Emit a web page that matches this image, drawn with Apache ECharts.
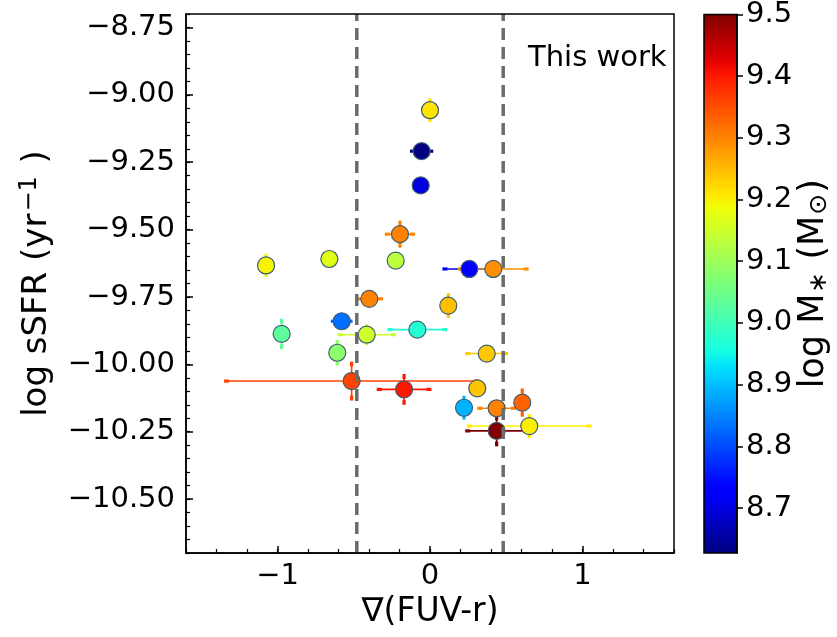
<!DOCTYPE html>
<html>
<head>
<meta charset="utf-8">
<script src="https://cdn.jsdelivr.net/npm/echarts@6/dist/echarts.min.js"></script>
<style>
  html, body { margin: 0; padding: 0; background: #ffffff; }
  #chart { width: 837px; height: 637px; }
</style>
</head>
<body>
<div id="chart"></div>
<script>
// Gradient of FUV-r colour vs. specific star formation rate, coloured by stellar mass
const gradFUVr    = [0.00, -0.055, -0.061, -0.197, -1.075, -0.66, -0.225, 0.258, 0.415, -0.398, 0.12, -0.579, -0.973, -0.083, -0.415, -0.608, 0.372, -0.514, -0.17, 0.31, 0.223, 0.437, 0.605, 0.651, 0.437];
const logSSFR     = [-9.057, -9.209, -9.336, -9.517, -9.633, -9.609, -9.615, -9.646, -9.646, -9.757, -9.782, -9.84, -9.887, -9.871, -9.89, -9.957, -9.96, -10.062, -10.093, -10.089, -10.161, -10.163, -10.142, -10.229, -10.247];
const logMstar    = [9.21, 8.627, 8.70, 9.30, 9.195, 9.17, 9.13, 8.72, 9.29, 9.30, 9.245, 8.83, 9.03, 8.97, 9.15, 9.08, 9.235, 9.36, 9.40, 9.24, 8.89, 9.30, 9.33, 9.20, 9.50];
const gradFUVrErr = [0, 0.06, 0, 0.083, 0, 0, 0, 0.16, 0.215, 0.074, 0, 0.055, 0, 0.18, 0.175, 0, 0.124, 0.82, 0.163, 0, 0, 0.11, 0, 0.393, 0.19];
const logSSFRErr  = [0.035, 0, 0, 0.041, 0.035, 0, 0, 0, 0, 0, 0.036, 0, 0.047, 0, 0.03, 0.038, 0, 0.063, 0.048, 0, 0.035, 0, 0.043, 0.035, 0.048];

// Vertical reference lines in gradient
const gradLimits = [-0.48, 0.48];

// Axis ticks
const xTicks  = [-1, 0, 1];
const yTicks  = [-10.5, -10.25, -10.0, -9.75, -9.5, -9.25, -9.0, -8.75];
const cbTicks = [8.7, 8.8, 8.9, 9.0, 9.1, 9.2, 9.3, 9.4, 9.5];
const massRange = [8.627, 9.5];

const FONT = 'DejaVu Sans';
const minus = s => s.replace('-', '\u2212');

// matplotlib "jet" colormap, piecewise linear
const jetSeg = {
  r: [[0, 0], [0.35, 0], [0.66, 1], [0.89, 1], [1, 0.5]],
  g: [[0, 0], [0.125, 0], [0.375, 1], [0.64, 1], [0.91, 0], [1, 0]],
  b: [[0, 0.5], [0.11, 1], [0.34, 1], [0.65, 0], [1, 0]]
};
function segVal(seg, t) {
  for (let i = 1; i < seg.length; i++) {
    if (t <= seg[i][0]) {
      const [t0, v0] = seg[i - 1], [t1, v1] = seg[i];
      return v0 + (v1 - v0) * (t - t0) / (t1 - t0);
    }
  }
  return seg[seg.length - 1][1];
}
function jet(t) {
  const c = k => Math.round(255 * segVal(jetSeg[k], t));
  return 'rgb(' + c('r') + ',' + c('g') + ',' + c('b') + ')';
}
const jetColors = [];
for (let i = 0; i <= 64; i++) jetColors.push(jet(i / 64));

const points = gradFUVr.map((x, i) => [x, logSSFR[i], logMstar[i], gradFUVrErr[i], logSSFRErr[i]]);

const chart = echarts.init(document.getElementById('chart'), null, { renderer: 'canvas' });

function errorBars(params, api) {
  const x = api.value(0), y = api.value(1);
  const xe = api.value(3), ye = api.value(4);
  const color = api.visual('color');
  const children = [];
  const lineStyle = { stroke: color, lineWidth: 1.6 };
  const capStyle = { fill: color };
  if (xe > 0) {
    const a = api.coord([x - xe, y]), b = api.coord([x + xe, y]);
    children.push({ type: 'line', shape: { x1: a[0], y1: a[1], x2: b[0], y2: b[1] }, style: lineStyle });
    [a, b].forEach(p => children.push({ type: 'rect', shape: { x: p[0] - 2.5, y: p[1] - 1.6, width: 5, height: 3.2 }, style: capStyle }));
  }
  if (ye > 0) {
    const a = api.coord([x, y - ye]), b = api.coord([x, y + ye]);
    children.push({ type: 'line', shape: { x1: a[0], y1: a[1], x2: b[0], y2: b[1] }, style: lineStyle });
    [a, b].forEach(p => children.push({ type: 'rect', shape: { x: p[0] - 1.6, y: p[1] - 2.5, width: 3.2, height: 5 }, style: capStyle }));
  }
  return { type: 'group', children: children };
}

const limitSeries = gradLimits.map(g => ({
  type: 'line',
  xAxisIndex: 0, yAxisIndex: 0,
  data: [[g, -10.7], [g, -8.7]],
  symbol: 'none',
  silent: true,
  z: 5,
  lineStyle: { color: '#6b6b6b', width: 3.5, type: [12, 7] }
}));

const option = {
  animation: false,
  backgroundColor: '#ffffff',
  textStyle: { fontFamily: FONT },
  grid: [
    { left: 186, top: 14, width: 488, height: 539, show: true, borderColor: '#000', borderWidth: 1.5, backgroundColor: 'transparent', z: 6 },
    { left: 704, top: 14, width: 33, height: 539, show: true, borderColor: '#000', borderWidth: 1.5, backgroundColor: 'transparent', z: 6 }
  ],
  xAxis: [
    {
      type: 'value', gridIndex: 0, position: 'bottom', min: -1.6, max: 1.6,
      name: '\u2207(FUV-r)', nameLocation: 'middle', nameGap: 35,
      nameTextStyle: { fontFamily: FONT, fontSize: 33, color: '#000' },
      axisLine: { show: true, onZero: false, lineStyle: { color: '#000', width: 1.5 } },
      axisTick: { show: true, inside: true, length: 7, customValues: xTicks, lineStyle: { color: '#000', width: 1.5 } },
      axisLabel: { show: true, margin: 9, customValues: xTicks, fontFamily: FONT, fontSize: 29, color: '#000', formatter: v => minus(String(v)) },
      splitLine: { show: false }
    },
    {
      type: 'value', gridIndex: 0, position: 'bottom', min: -1.6, max: 1.6, interval: 0.2,
      axisLine: { show: false, onZero: false },
      axisTick: { show: true, inside: true, length: 4, lineStyle: { color: '#000', width: 1.2 } },
      axisLabel: { show: false },
      splitLine: { show: false }
    },
    { type: 'value', gridIndex: 1, min: 0, max: 1, show: false }
  ],
  yAxis: [
    {
      type: 'value', gridIndex: 0, position: 'left', min: -10.7, max: -8.7,
      name: '{t|log sSFR (yr}{s|\u22121}{t| )}', nameLocation: 'middle', nameGap: 130, nameRotate: 90,
      nameTextStyle: {
        color: '#000',
        rich: {
          t: { fontFamily: FONT, fontSize: 34, color: '#000' },
          s: { fontFamily: FONT, fontSize: 24, color: '#000', verticalAlign: 'top', padding: [0, 2, 14, 2] }
        }
      },
      axisLine: { show: true, onZero: false, lineStyle: { color: '#000', width: 1.5 } },
      axisTick: { show: true, inside: true, length: 7, customValues: yTicks, lineStyle: { color: '#000', width: 1.5 } },
      axisLabel: { show: true, margin: 11, customValues: yTicks, fontFamily: FONT, fontSize: 29, color: '#000', formatter: v => minus(v.toFixed(2)) },
      splitLine: { show: false }
    },
    {
      type: 'value', gridIndex: 0, position: 'left', min: -10.7, max: -8.7, interval: 0.05,
      axisLine: { show: false, onZero: false },
      axisTick: { show: true, inside: true, length: 4, lineStyle: { color: '#000', width: 1.2 } },
      axisLabel: { show: false },
      splitLine: { show: false }
    },
    {
      type: 'value', gridIndex: 1, position: 'right', min: massRange[0], max: massRange[1],
      name: '{t|log M}{s|\u2217}{t| (M}{s|\u2299}{t|)}', nameLocation: 'middle', nameGap: 56, nameRotate: 90,
      nameTextStyle: {
        color: '#000',
        rich: {
          t: { fontFamily: FONT, fontSize: 35, color: '#000' },
          s: { fontFamily: FONT, fontSize: 25, color: '#000', verticalAlign: 'bottom', padding: [12, 1, 0, 1] }
        }
      },
      z: 8,
      axisLine: { show: true, onZero: false, lineStyle: { color: '#000', width: 1.5 } },
      axisTick: { show: true, inside: false, length: 6, customValues: cbTicks, lineStyle: { color: '#000', width: 1.5 } },
      axisLabel: { show: true, margin: 9, customValues: cbTicks, fontFamily: FONT, fontSize: 29, color: '#000', formatter: v => v.toFixed(1) },
      splitLine: { show: false }
    }
  ],
  visualMap: {
    type: 'continuous',
    min: massRange[0], max: massRange[1],
    dimension: 2,
    seriesIndex: [0, 1],
    inRange: { color: jetColors },
    orient: 'vertical',
    left: 704, top: 14,
    itemWidth: 33, itemHeight: 539,
    padding: 0,
    calculable: false,
    hoverLink: false,
    showLabel: false,
    text: null,
    z: 1
  },
  graphic: [
    {
      type: 'text', left: 528, top: 44, z: 10,
      style: { text: 'This work', fontFamily: FONT, fontSize: 29, fill: '#000' }
    }
  ],
  series: [
    {
      type: 'custom',
      xAxisIndex: 0, yAxisIndex: 0,
      renderItem: errorBars,
      data: points,
      encode: { x: 0, y: 1 },
      silent: true,
      z: 2
    },
    {
      type: 'scatter',
      xAxisIndex: 0, yAxisIndex: 0,
      data: points,
      encode: { x: 0, y: 1 },
      symbol: 'circle',
      symbolSize: 17,
      itemStyle: { borderColor: '#3e5c72', borderWidth: 1.2, opacity: 1 },
      z: 3
    }
  ].concat(limitSeries)
};

chart.setOption(option);
</script>
</body>
</html>
